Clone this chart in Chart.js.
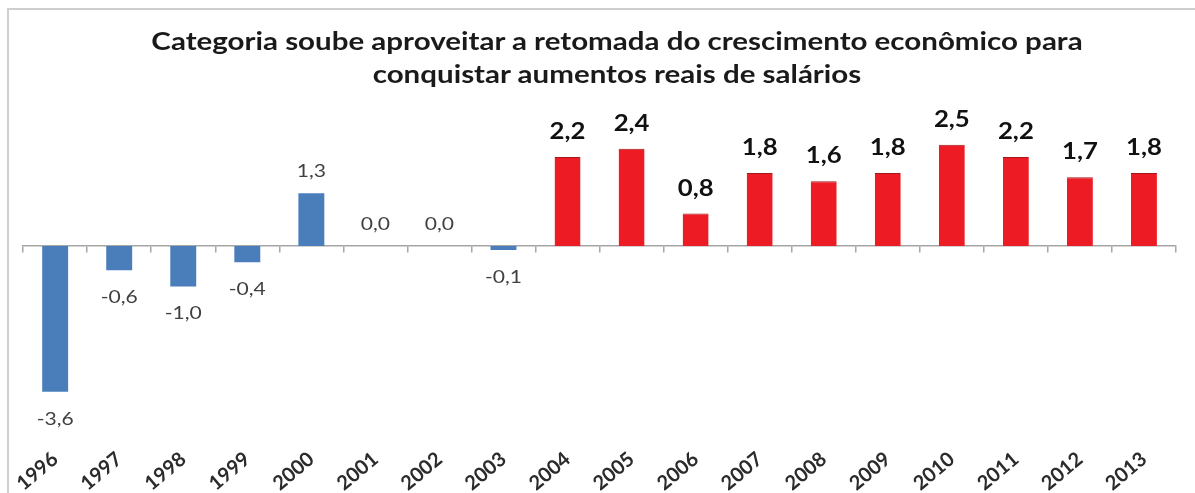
<!DOCTYPE html>
<html>
<head>
<meta charset="utf-8">
<script src="https://cdn.jsdelivr.net/npm/chart.js@4.4.1/dist/chart.umd.min.js"></script>
<style>
  html, body { margin: 0; padding: 0; background: #ffffff; }
  body { width: 1195px; height: 493px; overflow: hidden; position: relative; }
  #frame { position: absolute; left: 7px; top: 8px; width: 1300px; height: 600px;
           border-left: 2px solid #cfcfcf; border-top: 2px solid #cfcfcf; box-sizing: border-box; }
  #title { position: absolute; left: 0; top: 24px; width: 1234px; text-align: center;
           font-family: Lato, "Open Sans", sans-serif; font-weight: 700; font-size: 25px;
           line-height: 33px; color: #1a1a1a; transform: scaleX(1.18); transform-origin: 617px 0; }
  #wrap { position: absolute; left: 0; top: 0; width: 1195px; height: 493px; }
</style>
</head>
<body>
<div id="frame"></div>
<div id="wrap"><canvas id="c" width="1195" height="493"></canvas></div>
<div id="title">Categoria soube aproveitar a retomada do crescimento econômico para<br>conquistar aumentos reais de salários</div>
<script>
const years = ["1996","1997","1998","1999","2000","2001","2002","2003","2004","2005","2006","2007","2008","2009","2010","2011","2012","2013"];
const realGains = [-3.6, -0.6, -1.0, -0.4, 1.3, 0.0, 0.0, -0.1, 2.2, 2.4, 0.8, 1.8, 1.6, 1.8, 2.5, 2.2, 1.7, 1.8];
const highlightFrom = "2004";

const BLUE = "#4a7ebb";
const RED = "#ed1c24";
const isHighlight = (i) => years[i] >= highlightFrom;

const fmt = (v) => v.toFixed(1).replace(".", ",");

const valueLabels = {
  id: "valueLabels",
  afterDatasetsDraw(chart) {
    const ctx = chart.ctx;
    const meta = chart.getDatasetMeta(0);
    meta.data.forEach((bar, i) => {
      const v = realGains[i];
      const hl = isHighlight(i);
      ctx.save();
      ctx.textAlign = "center";
      ctx.textBaseline = "middle";
      if (hl) {
        ctx.font = "bold 22px Lato, 'Open Sans', sans-serif";
        ctx.fillStyle = "#111111";
      } else {
        ctx.font = "18px Lato, 'Open Sans', sans-serif";
        ctx.fillStyle = "#404040";
      }
      const off = v < 0 ? 27 : (hl ? 25 : 22);
      const y = v < 0 ? bar.y + off : bar.y - off;
      ctx.translate(bar.x, y);
      ctx.scale(1.17, 1);
      ctx.fillText(fmt(v), 0, 0);
      ctx.restore();
    });
  }
};

new Chart(document.getElementById("c"), {
  type: "bar",
  data: {
    labels: years,
    datasets: [{
      data: realGains,
      backgroundColor: (c) => isHighlight(c.dataIndex) ? RED : BLUE,
      borderColor: (c) => isHighlight(c.dataIndex) ? "#a31818" : BLUE,
      borderWidth: (c) => isHighlight(c.dataIndex) ? {top: 1, left: 0, right: 0, bottom: 0} : 0,
      borderSkipped: "start",
      categoryPercentage: 0.45,
      barPercentage: 0.9
    }]
  },
  options: {
    responsive: false,
    animation: false,
    events: [],
    layout: { padding: { left: 22, right: 19, top: 124.5, bottom: 0 } },
    plugins: { legend: { display: false }, tooltip: { enabled: false }, title: { display: false } },
    scales: {
      y: { display: false, min: -4.5, max: 3 },
      x: {
        position: "bottom",
        grid: { display: false, drawTicks: false },
        border: { display: false },
        afterFit: (s) => { s.height = 64.75; },
        ticks: {
          autoSkip: false, minRotation: 40, maxRotation: 40, padding: 19,
          color: "#2b2b2b",
          font: { family: "Lato, 'Open Sans', sans-serif", size: 20, weight: "bold" }
        }
      },
      x2: {
        axis: "x",
        type: "category",
        position: { y: 0 },
        offset: true,
        grid: { drawOnChartArea: false, drawTicks: true, tickLength: 6, color: "#a6a6a6", offset: true, lineWidth: 1.5 },
        border: { display: true, color: "#a6a6a6", width: 1.5 },
        ticks: { display: false }
      }
    }
  },
  plugins: [valueLabels]
});
</script>
</body>
</html>
